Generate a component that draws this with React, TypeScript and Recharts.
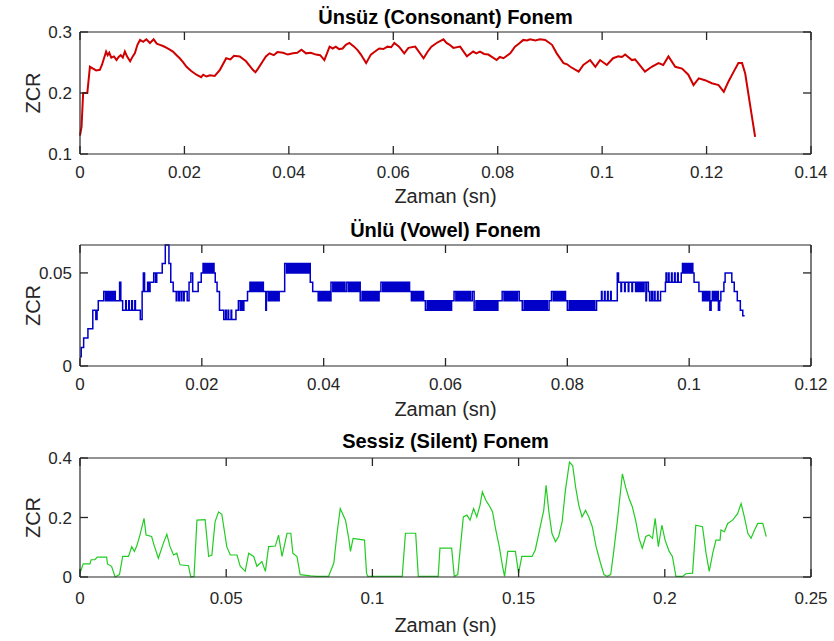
import React from 'react';
import { LineChart, Line, XAxis, YAxis } from 'recharts';

type Pt = [number, number];

// tick values for each panel
const consonantXTicks = [0, 0.02, 0.04, 0.06, 0.08, 0.1, 0.12, 0.14];
const consonantYTicks = [0.1, 0.2, 0.3];
const vowelXTicks = [0, 0.02, 0.04, 0.06, 0.08, 0.1, 0.12];
const vowelYTicks = [0, 0.05];
const silentXTicks = [0, 0.05, 0.1, 0.15, 0.2, 0.25];
const silentYTicks = [0, 0.2, 0.4];

// [time (s), zcr]
const consonant: Pt[] = [
  [0, 0.13], [0.0003, 0.145], [0.0006, 0.2], [0.0014, 0.2], [0.0019, 0.243], [0.0025, 0.24],
  [0.0031, 0.237], [0.0038, 0.238], [0.0042, 0.246], [0.005, 0.268], [0.0053, 0.262], [0.0056, 0.266],
  [0.006, 0.258], [0.0065, 0.26], [0.007, 0.254], [0.0074, 0.259], [0.0078, 0.262], [0.0082, 0.258],
  [0.0086, 0.268], [0.009, 0.26], [0.0096, 0.252], [0.0101, 0.26], [0.0105, 0.265], [0.011, 0.279],
  [0.0115, 0.287], [0.0121, 0.284], [0.0127, 0.288], [0.0134, 0.282], [0.0141, 0.288], [0.0147, 0.281],
  [0.0153, 0.279], [0.0159, 0.277], [0.0166, 0.274], [0.0172, 0.271], [0.0178, 0.268], [0.0185, 0.262],
  [0.0191, 0.257], [0.0197, 0.251], [0.0204, 0.243], [0.0213, 0.236], [0.0223, 0.23], [0.0232, 0.226],
  [0.0236, 0.23], [0.0242, 0.227], [0.0249, 0.229], [0.0258, 0.228], [0.0268, 0.238], [0.028, 0.257],
  [0.0288, 0.255], [0.0295, 0.261], [0.0306, 0.26], [0.0318, 0.252], [0.0331, 0.238], [0.0336, 0.234],
  [0.0341, 0.24], [0.035, 0.252], [0.0356, 0.26], [0.0363, 0.265], [0.0371, 0.262], [0.0378, 0.267],
  [0.0389, 0.266], [0.0398, 0.263], [0.0408, 0.265], [0.0416, 0.266], [0.0424, 0.271], [0.0433, 0.265],
  [0.0442, 0.266], [0.0452, 0.263], [0.046, 0.262], [0.0468, 0.254], [0.0478, 0.276], [0.0484, 0.273],
  [0.049, 0.276], [0.0496, 0.272], [0.0503, 0.273], [0.0509, 0.279], [0.0516, 0.282], [0.0525, 0.276],
  [0.0532, 0.27], [0.0538, 0.263], [0.0548, 0.249], [0.0557, 0.263], [0.0565, 0.268], [0.0573, 0.273],
  [0.0581, 0.272], [0.0589, 0.276], [0.0596, 0.275], [0.0602, 0.282], [0.0611, 0.276], [0.0621, 0.265],
  [0.0629, 0.274], [0.0642, 0.276], [0.0658, 0.257], [0.0666, 0.268], [0.0673, 0.276], [0.0683, 0.282],
  [0.0696, 0.288], [0.0702, 0.282], [0.0708, 0.279], [0.0715, 0.274], [0.0728, 0.276], [0.0741, 0.26],
  [0.0753, 0.268], [0.0759, 0.265], [0.0766, 0.268], [0.0774, 0.264], [0.0782, 0.263], [0.0798, 0.254],
  [0.0804, 0.259], [0.0811, 0.257], [0.0824, 0.265], [0.0833, 0.276], [0.0841, 0.281], [0.0849, 0.287],
  [0.0856, 0.286], [0.0862, 0.288], [0.0872, 0.286], [0.0881, 0.288], [0.0891, 0.287], [0.0904, 0.279],
  [0.0913, 0.265], [0.0926, 0.249], [0.0933, 0.247], [0.0939, 0.243], [0.0955, 0.235], [0.0964, 0.246],
  [0.0977, 0.254], [0.0987, 0.243], [0.0996, 0.254], [0.1009, 0.246], [0.1021, 0.257], [0.1031, 0.26],
  [0.1038, 0.259], [0.1044, 0.263], [0.1057, 0.254], [0.1063, 0.255], [0.1069, 0.249], [0.1082, 0.235],
  [0.1095, 0.243], [0.1108, 0.249], [0.1117, 0.246], [0.1127, 0.26], [0.114, 0.243], [0.1153, 0.24],
  [0.1165, 0.23], [0.1175, 0.213], [0.1185, 0.224], [0.1197, 0.221], [0.121, 0.216], [0.1223, 0.213],
  [0.1233, 0.202], [0.1242, 0.219], [0.1252, 0.235], [0.1261, 0.249], [0.1268, 0.249], [0.1274, 0.232],
  [0.1284, 0.177], [0.1293, 0.128],
];

const vowel: Pt[] = [
  [0, 0.005], [0.0002, 0.01], [0.0006, 0.015], [0.0013, 0.02], [0.0021, 0.03], [0.0026, 0.025],
  [0.0028, 0.03], [0.003, 0.035], [0.0039, 0.04],
  [0.0042, 0.035], [0.0044, 0.04], [0.0046, 0.035], [0.0048, 0.04], [0.005, 0.035], [0.0052, 0.04],
  [0.0054, 0.035], [0.0056, 0.04], [0.0058, 0.035],
  [0.0065, 0.045], [0.0067, 0.035], [0.007, 0.03],
  [0.0075, 0.035], [0.0076, 0.03], [0.008, 0.035], [0.0081, 0.03], [0.0085, 0.035], [0.0086, 0.03],
  [0.009, 0.035], [0.0091, 0.03],
  [0.0099, 0.025], [0.0102, 0.04], [0.0104, 0.05], [0.0106, 0.04], [0.0111, 0.045], [0.0113, 0.04],
  [0.0115, 0.045], [0.0121, 0.05], [0.0124, 0.045], [0.0126, 0.05], [0.0135, 0.055], [0.014, 0.065],
  [0.0146, 0.055], [0.0149, 0.045], [0.0153, 0.04],
  [0.0158, 0.035], [0.0159, 0.04], [0.0162, 0.035], [0.0163, 0.04], [0.0166, 0.035], [0.0167, 0.04],
  [0.017, 0.035], [0.0171, 0.04],
  [0.0176, 0.035], [0.0179, 0.045], [0.0182, 0.05], [0.0185, 0.04], [0.0194, 0.045], [0.0199, 0.05],
  [0.0202, 0.055], [0.0204, 0.05], [0.0206, 0.055], [0.0208, 0.05], [0.021, 0.055], [0.0212, 0.05],
  [0.0214, 0.055], [0.0216, 0.05], [0.0218, 0.055], [0.022, 0.05],
  [0.0222, 0.045], [0.0225, 0.04], [0.0229, 0.03], [0.0236, 0.025],
  [0.0239, 0.03], [0.024, 0.025], [0.0243, 0.03], [0.0244, 0.025], [0.0248, 0.03], [0.0249, 0.025],
  [0.0256, 0.03], [0.026, 0.035], [0.0263, 0.03], [0.0265, 0.035], [0.0267, 0.03], [0.0269, 0.035],
  [0.0275, 0.04], [0.0279, 0.045],
  [0.0281, 0.04], [0.0283, 0.045], [0.0285, 0.04], [0.0287, 0.045], [0.0289, 0.04], [0.0291, 0.045],
  [0.0293, 0.04], [0.0295, 0.045], [0.0297, 0.04], [0.0299, 0.045], [0.0301, 0.04],
  [0.0305, 0.03], [0.0306, 0.04],
  [0.0309, 0.035], [0.0311, 0.04], [0.0313, 0.035], [0.0315, 0.04], [0.0317, 0.035], [0.0319, 0.04],
  [0.0321, 0.035], [0.0323, 0.04], [0.0325, 0.035], [0.0327, 0.04],
  [0.0336, 0.055],
  [0.0339, 0.05], [0.0341, 0.055], [0.0343, 0.05], [0.0345, 0.055], [0.0347, 0.05], [0.0349, 0.055],
  [0.0351, 0.05], [0.0353, 0.055], [0.0355, 0.05], [0.0357, 0.055], [0.0359, 0.05], [0.0361, 0.055],
  [0.0363, 0.05], [0.0365, 0.055], [0.0367, 0.05], [0.0369, 0.055], [0.0371, 0.05], [0.0373, 0.055],
  [0.0375, 0.05], [0.0377, 0.055],
  [0.0378, 0.045], [0.0382, 0.04], [0.0391, 0.035],
  [0.0393, 0.04], [0.0395, 0.035], [0.0397, 0.04], [0.0399, 0.035], [0.0401, 0.04], [0.0403, 0.035],
  [0.0405, 0.04], [0.0407, 0.035], [0.0409, 0.04], [0.0411, 0.035],
  [0.0412, 0.045],
  [0.0415, 0.04], [0.0417, 0.045], [0.0419, 0.04], [0.0421, 0.045], [0.0423, 0.04], [0.0425, 0.045],
  [0.0427, 0.04], [0.0429, 0.045], [0.0431, 0.04], [0.0433, 0.045], [0.0435, 0.04],
  [0.0438, 0.045],
  [0.0441, 0.04], [0.0443, 0.045], [0.0445, 0.04], [0.0447, 0.045], [0.0449, 0.04], [0.0451, 0.045],
  [0.0453, 0.04], [0.0455, 0.045], [0.0457, 0.04], [0.0459, 0.045],
  [0.046, 0.035],
  [0.0463, 0.04], [0.0465, 0.035], [0.0467, 0.04], [0.0469, 0.035], [0.0471, 0.04], [0.0473, 0.035],
  [0.0475, 0.04], [0.0477, 0.035], [0.0479, 0.04], [0.0481, 0.035], [0.0483, 0.04], [0.0485, 0.035],
  [0.0487, 0.04], [0.0489, 0.035], [0.0491, 0.04],
  [0.0494, 0.045],
  [0.0497, 0.04], [0.0499, 0.045], [0.0501, 0.04], [0.0503, 0.045], [0.0505, 0.04], [0.0507, 0.045],
  [0.0509, 0.04], [0.0511, 0.045], [0.0513, 0.04], [0.0515, 0.045], [0.0517, 0.04], [0.0519, 0.045],
  [0.0521, 0.04], [0.0523, 0.045], [0.0525, 0.04], [0.0527, 0.045], [0.0529, 0.04], [0.0531, 0.045],
  [0.0533, 0.04], [0.0535, 0.045], [0.0537, 0.04], [0.0539, 0.045], [0.0541, 0.04],
  [0.0544, 0.035], [0.0546, 0.04], [0.0548, 0.035], [0.055, 0.04], [0.0552, 0.035], [0.0554, 0.04],
  [0.0556, 0.035], [0.0558, 0.04], [0.056, 0.035], [0.0562, 0.04], [0.0564, 0.035],
  [0.0567, 0.03],
  [0.057, 0.035], [0.0572, 0.03], [0.0574, 0.035], [0.0576, 0.03], [0.0578, 0.035], [0.058, 0.03],
  [0.0582, 0.035], [0.0584, 0.03], [0.0586, 0.035], [0.0588, 0.03], [0.059, 0.035], [0.0592, 0.03],
  [0.0594, 0.035], [0.0596, 0.03], [0.0598, 0.035], [0.06, 0.03], [0.0602, 0.035], [0.0604, 0.03],
  [0.0606, 0.035], [0.0608, 0.03], [0.061, 0.035],
  [0.0614, 0.04],
  [0.0617, 0.035], [0.0619, 0.04], [0.0621, 0.035], [0.0623, 0.04], [0.0625, 0.035], [0.0627, 0.04],
  [0.0629, 0.035], [0.0631, 0.04], [0.0633, 0.035], [0.0635, 0.04], [0.0637, 0.035], [0.0639, 0.04],
  [0.0641, 0.035], [0.0644, 0.04],
  [0.0647, 0.03],
  [0.065, 0.035], [0.0652, 0.03], [0.0654, 0.035], [0.0656, 0.03], [0.0658, 0.035], [0.066, 0.03],
  [0.0662, 0.035], [0.0664, 0.03], [0.0666, 0.035], [0.0668, 0.03], [0.067, 0.035], [0.0672, 0.03],
  [0.0674, 0.035], [0.0676, 0.03], [0.0678, 0.035], [0.068, 0.03], [0.0682, 0.035], [0.0684, 0.03],
  [0.0686, 0.035],
  [0.0693, 0.04],
  [0.0696, 0.035], [0.0698, 0.04], [0.07, 0.035], [0.0702, 0.04], [0.0704, 0.035], [0.0706, 0.04],
  [0.0708, 0.035], [0.071, 0.04], [0.0712, 0.035], [0.0714, 0.04], [0.0716, 0.035], [0.0718, 0.04],
  [0.0721, 0.035],
  [0.0726, 0.03],
  [0.0729, 0.035], [0.0731, 0.03], [0.0733, 0.035], [0.0735, 0.03], [0.0737, 0.035], [0.0739, 0.03],
  [0.0741, 0.035], [0.0743, 0.03], [0.0745, 0.035], [0.0747, 0.03], [0.0749, 0.035], [0.0751, 0.03],
  [0.0753, 0.035], [0.0755, 0.03], [0.0757, 0.035], [0.0759, 0.03], [0.0761, 0.035], [0.0763, 0.03],
  [0.0765, 0.035], [0.0767, 0.03], [0.077, 0.035],
  [0.0774, 0.04],
  [0.0777, 0.035], [0.0779, 0.04], [0.0781, 0.035], [0.0783, 0.04], [0.0785, 0.035], [0.0787, 0.04],
  [0.0789, 0.035], [0.0791, 0.04], [0.0793, 0.035], [0.0795, 0.04], [0.0797, 0.035],
  [0.08, 0.03],
  [0.0803, 0.035], [0.0805, 0.03], [0.0807, 0.035], [0.0809, 0.03], [0.0811, 0.035], [0.0813, 0.03],
  [0.0815, 0.035], [0.0817, 0.03], [0.0819, 0.035], [0.0821, 0.03], [0.0823, 0.035], [0.0825, 0.03],
  [0.0827, 0.035], [0.0829, 0.03], [0.0831, 0.035], [0.0833, 0.03], [0.0835, 0.035], [0.0837, 0.03],
  [0.0839, 0.035], [0.0841, 0.03], [0.0843, 0.035], [0.0845, 0.03], [0.0848, 0.035],
  [0.0856, 0.04], [0.0857, 0.035], [0.0861, 0.04], [0.0862, 0.035], [0.0866, 0.04], [0.0867, 0.035],
  [0.0871, 0.04], [0.0872, 0.035],
  [0.0882, 0.05], [0.0884, 0.045],
  [0.0888, 0.04], [0.0889, 0.045], [0.0894, 0.04], [0.0895, 0.045], [0.09, 0.04], [0.0901, 0.045],
  [0.0906, 0.04], [0.0907, 0.045], [0.0912, 0.04], [0.0914, 0.045], [0.0916, 0.04], [0.0918, 0.045],
  [0.092, 0.04], [0.0922, 0.045], [0.0924, 0.04], [0.0926, 0.045], [0.0929, 0.035], [0.093, 0.045],
  [0.0933, 0.04], [0.0935, 0.035],
  [0.0938, 0.04], [0.094, 0.035], [0.0943, 0.04], [0.0944, 0.035], [0.0948, 0.04], [0.0949, 0.035],
  [0.0953, 0.04],
  [0.0961, 0.045], [0.0962, 0.05], [0.0963, 0.045], [0.0966, 0.05], [0.0967, 0.045], [0.0971, 0.05],
  [0.0972, 0.045], [0.0976, 0.05], [0.0977, 0.045], [0.0981, 0.05], [0.0982, 0.045], [0.0987, 0.05],
  [0.0989, 0.055],
  [0.0991, 0.05], [0.0993, 0.055], [0.0995, 0.05], [0.0997, 0.055], [0.0999, 0.05], [0.1001, 0.055],
  [0.1003, 0.05], [0.1005, 0.055], [0.1006, 0.05],
  [0.1008, 0.045], [0.1016, 0.04], [0.1022, 0.035],
  [0.1024, 0.04], [0.1026, 0.035], [0.1028, 0.04], [0.103, 0.035], [0.1032, 0.04], [0.1034, 0.03],
  [0.1036, 0.035], [0.1038, 0.04], [0.104, 0.035], [0.1042, 0.04], [0.1044, 0.035], [0.1046, 0.04],
  [0.1048, 0.03], [0.105, 0.035],
  [0.1052, 0.04], [0.1057, 0.045], [0.1059, 0.05], [0.107, 0.045], [0.1074, 0.04], [0.1079, 0.035],
  [0.1084, 0.03], [0.1088, 0.027], [0.1091, 0.027],
];

const silent: Pt[] = [
  [0, 0.013], [0.0011, 0.044], [0.0034, 0.044], [0.0038, 0.058], [0.0051, 0.058], [0.0059, 0.067],
  [0.0091, 0.067], [0.0094, 0.044], [0.0108, 0.036], [0.012, 0], [0.0135, 0.008], [0.0146, 0.069],
  [0.0166, 0.069], [0.0177, 0.102], [0.0186, 0.086], [0.0194, 0.104], [0.0205, 0.141], [0.0219, 0.197],
  [0.0226, 0.141], [0.0245, 0.136], [0.0253, 0.108], [0.0268, 0.063], [0.0285, 0.113], [0.0297, 0.144],
  [0.0308, 0.102], [0.032, 0.074], [0.0331, 0.08], [0.0342, 0.041], [0.0371, 0.038], [0.0379, 0],
  [0.039, 0.002], [0.04, 0.191], [0.0428, 0.193], [0.044, 0.069], [0.0451, 0.074], [0.0462, 0.186],
  [0.0474, 0.219], [0.0485, 0.211], [0.0502, 0.102], [0.0514, 0.074], [0.0537, 0.074], [0.0548, 0.036],
  [0.0565, 0.019], [0.0577, 0.08], [0.0594, 0.069], [0.0605, 0.036], [0.0622, 0.052], [0.0634, 0.019],
  [0.0645, 0.102], [0.0668, 0.104], [0.0679, 0.141], [0.0691, 0.069], [0.0708, 0.147], [0.0721, 0.147],
  [0.0728, 0.08], [0.0742, 0.069], [0.0753, 0.008], [0.0788, 0.004], [0.081, 0.002], [0.085, 0.002],
  [0.0868, 0.047], [0.0879, 0.147], [0.089, 0.23], [0.0908, 0.191], [0.0919, 0.13], [0.0925, 0.086],
  [0.0934, 0.13], [0.0973, 0.124], [0.098, 0.013], [0.0984, 0.002], [0.1102, 0.002], [0.1113, 0.147],
  [0.1148, 0.147], [0.1157, 0.002], [0.1225, 0.002], [0.1231, 0.097], [0.1271, 0.097], [0.128, 0.002],
  [0.1292, 0.008], [0.13, 0.091], [0.1311, 0.202], [0.1323, 0.208], [0.1334, 0.191], [0.1346, 0.23],
  [0.1357, 0.202], [0.1368, 0.241], [0.1376, 0.286], [0.1388, 0.258], [0.1399, 0.241], [0.1411, 0.219],
  [0.1422, 0.158], [0.1434, 0.102], [0.1445, 0.036], [0.1452, 0.002], [0.1463, 0.086], [0.1489, 0.086],
  [0.15, 0.013], [0.1511, 0.069], [0.1546, 0.069], [0.1557, 0.091], [0.1574, 0.169], [0.1586, 0.224],
  [0.1594, 0.308], [0.1603, 0.224], [0.1614, 0.147], [0.1626, 0.119], [0.1637, 0.136], [0.1649, 0.186],
  [0.166, 0.291], [0.1674, 0.386], [0.1685, 0.374], [0.1695, 0.302], [0.1706, 0.241], [0.1717, 0.202],
  [0.1729, 0.224], [0.174, 0.202], [0.1752, 0.169], [0.1765, 0.102], [0.178, 0.047], [0.1792, 0.008],
  [0.1803, 0.002], [0.1815, 0.008], [0.1826, 0.091], [0.1838, 0.191], [0.1855, 0.347], [0.1866, 0.302],
  [0.1878, 0.263], [0.1889, 0.236], [0.19, 0.191], [0.1912, 0.13], [0.1923, 0.097], [0.1935, 0.136],
  [0.1946, 0.141], [0.1958, 0.13], [0.1967, 0.197], [0.1978, 0.102], [0.199, 0.174], [0.2001, 0.124],
  [0.2015, 0.086], [0.2026, 0.069], [0.2038, 0.002], [0.2061, 0.002], [0.2072, 0.011], [0.2095, 0.013],
  [0.2106, 0.174], [0.2129, 0.169], [0.2141, 0.08], [0.2152, 0.019], [0.2164, 0.08], [0.2175, 0.124],
  [0.2189, 0.124], [0.2192, 0.158], [0.2204, 0.152], [0.2215, 0.18], [0.2232, 0.191], [0.2249, 0.213],
  [0.2261, 0.247], [0.2272, 0.202], [0.2284, 0.147], [0.2295, 0.13], [0.2307, 0.158], [0.2318, 0.18],
  [0.2335, 0.18], [0.2347, 0.136],
];

const FONT = '"Liberation Sans", Arial, Helvetica, sans-serif';
const AXIS = '#262626';
const PLOT_LEFT = 80;
const PLOT_RIGHT = 811;
const WIDTH = 834;
const BOTTOM_AXIS_H = 30;
const TOP_AXIS_H = 4;
const LEFT_AXIS_W = 40;
const RIGHT_AXIS_W = 4;
const TICK_LEN = 8;
const TICK_FONT = 17;

// MATLAB-style ticks: short marks pointing into the plot box
const bottomTick = (gap: number) => (props: any) => {
  const { x, y, payload } = props;
  return (
    <g>
      <path d={`M${x},${y}v${-TICK_LEN}`} stroke={AXIS} strokeWidth={1.3} fill="none" />
      <text
        x={x}
        y={y + gap + 12}
        textAnchor="middle"
        fontFamily={FONT}
        fontSize={TICK_FONT}
        fill={AXIS}
      >
        {String(payload.value)}
      </text>
    </g>
  );
};

const topTick = (props: any) => {
  const { x, y } = props;
  return <path d={`M${x},${y}v${TICK_LEN}`} stroke={AXIS} strokeWidth={1.3} fill="none" />;
};

const leftTick = (props: any) => {
  const { x, y, payload } = props;
  return (
    <g>
      <path d={`M${x},${y}h${TICK_LEN}`} stroke={AXIS} strokeWidth={1.3} fill="none" />
      <text
        x={x - 8}
        y={y}
        dy="0.36em"
        textAnchor="end"
        fontFamily={FONT}
        fontSize={TICK_FONT}
        fill={AXIS}
      >
        {String(payload.value)}
      </text>
    </g>
  );
};

const rightTick = (props: any) => {
  const { x, y } = props;
  return <path d={`M${x},${y}h${-TICK_LEN}`} stroke={AXIS} strokeWidth={1.3} fill="none" />;
};

interface PanelProps {
  points: Pt[];
  color: string;
  step?: boolean;
  strokeWidth: number;
  xTicks: number[];
  yTicks: number[];
  yDomain: [number, number];
  top: number;
  height: number;
  plotTop: number;
  plotBottom: number;
  labelGap: number;
}

const Panel: React.FC<PanelProps> = ({
  points, color, step, strokeWidth, xTicks, yTicks, yDomain, top, height, plotTop, plotBottom, labelGap,
}) => {
  const data = points.map(([t, v]) => ({ t, v }));
  const xDomain: [number, number] = [0, xTicks[xTicks.length - 1]];
  const frame = { stroke: AXIS, strokeWidth: 1.2 };
  return (
    <div style={{ position: 'absolute', left: 0, top }}>
      <LineChart
        width={WIDTH}
        height={height}
        data={data}
        margin={{
          top: plotTop - top - TOP_AXIS_H,
          right: WIDTH - PLOT_RIGHT - RIGHT_AXIS_W,
          bottom: top + height - plotBottom - BOTTOM_AXIS_H,
          left: PLOT_LEFT - LEFT_AXIS_W,
        }}
      >
        <XAxis
          xAxisId="bottom"
          dataKey="t"
          type="number"
          domain={xDomain}
          ticks={xTicks}
          interval={0}
          height={BOTTOM_AXIS_H}
          tickSize={0}
          tickMargin={0}
          axisLine={frame}
          tickLine={false}
          tick={bottomTick(labelGap)}
        />
        <XAxis
          xAxisId="top"
          orientation="top"
          dataKey="t"
          type="number"
          domain={xDomain}
          ticks={xTicks}
          interval={0}
          height={TOP_AXIS_H}
          tickSize={0}
          tickMargin={0}
          axisLine={frame}
          tickLine={false}
          tick={topTick}
        />
        <YAxis
          yAxisId="left"
          type="number"
          domain={yDomain}
          ticks={yTicks}
          interval={0}
          width={LEFT_AXIS_W}
          tickSize={0}
          tickMargin={0}
          axisLine={frame}
          tickLine={false}
          tick={leftTick}
        />
        <YAxis
          yAxisId="right"
          orientation="right"
          type="number"
          domain={yDomain}
          ticks={yTicks}
          interval={0}
          width={RIGHT_AXIS_W}
          tickSize={0}
          tickMargin={0}
          axisLine={frame}
          tickLine={false}
          tick={rightTick}
        />
        {/* keeps the top/right frame axes bound to the same scales */}
        <Line
          xAxisId="top"
          yAxisId="right"
          dataKey="v"
          stroke="none"
          dot={false}
          isAnimationActive={false}
        />
        <Line
          xAxisId="bottom"
          yAxisId="left"
          type={step ? 'stepAfter' : 'linear'}
          dataKey="v"
          stroke={color}
          strokeWidth={strokeWidth}
          dot={false}
          isAnimationActive={false}
        />
      </LineChart>
    </div>
  );
};

const CENTER_X = (PLOT_LEFT + PLOT_RIGHT) / 2;

const Texts: React.FC = () => {
  const titles = [
    { text: 'Ünsüz (Consonant) Fonem', y: 24 },
    { text: 'Ünlü (Vowel) Fonem', y: 237 },
    { text: 'Sessiz (Silent) Fonem', y: 448 },
  ];
  const xLabels = [203, 416, 632];
  const yCenters = [93, 305.5, 517.5];
  return (
    <svg
      width={WIDTH}
      height={641}
      style={{ position: 'absolute', left: 0, top: 0, pointerEvents: 'none' }}
    >
      {titles.map((t) => (
        <text
          key={t.text}
          x={CENTER_X}
          y={t.y}
          textAnchor="middle"
          fontFamily={FONT}
          fontSize={20}
          fontWeight="bold"
          fill="#000"
        >
          {t.text}
        </text>
      ))}
      {xLabels.map((y) => (
        <text key={y} x={CENTER_X} y={y} textAnchor="middle" fontFamily={FONT} fontSize={20} fill={AXIS}>
          Zaman (sn)
        </text>
      ))}
      {yCenters.map((cy) => (
        <text
          key={cy}
          x={39.5}
          y={cy}
          transform={`rotate(-90 39.5 ${cy})`}
          textAnchor="middle"
          fontFamily={FONT}
          fontSize={20}
          fill={AXIS}
        >
          ZCR
        </text>
      ))}
    </svg>
  );
};

export default function App() {
  return (
    <div
      style={{
        position: 'absolute',
        left: 0,
        top: 0,
        width: WIDTH,
        height: 641,
        background: '#fff',
        overflow: 'hidden',
      }}
    >
      <Panel
        points={consonant}
        color="#d00000"
        strokeWidth={2}
        xTicks={consonantXTicks}
        yTicks={consonantYTicks}
        yDomain={[0.1, 0.3]}
        top={0}
        height={205}
        plotTop={32}
        plotBottom={154}
        labelGap={12}
      />
      <Panel
        points={vowel}
        color="#0000c8"
        step
        strokeWidth={1.5}
        xTicks={vowelXTicks}
        yTicks={vowelYTicks}
        yDomain={[0, 0.065]}
        top={205}
        height={210}
        plotTop={245}
        plotBottom={366}
        labelGap={12}
      />
      <Panel
        points={silent}
        color="#22cc22"
        strokeWidth={1.2}
        xTicks={silentXTicks}
        yTicks={silentYTicks}
        yDomain={[0, 0.4]}
        top={415}
        height={226}
        plotTop={458}
        plotBottom={577}
        labelGap={15}
      />
      <Texts />
    </div>
  );
}
